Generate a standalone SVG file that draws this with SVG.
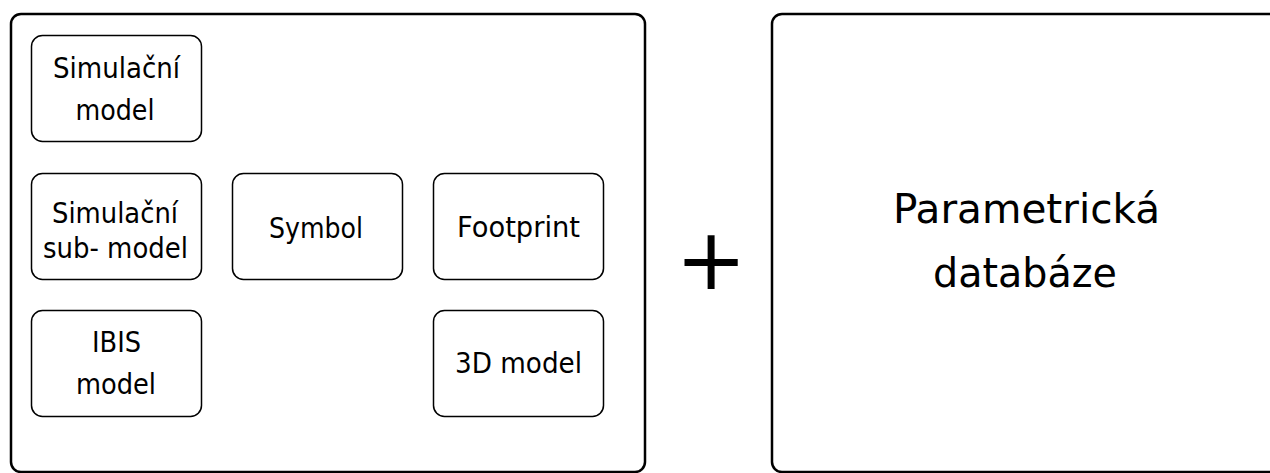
<svg xmlns="http://www.w3.org/2000/svg" width="1270" height="473" viewBox="0 0 1270 473">
  <style>
    .frame { fill: #ffffff; stroke: #000000; stroke-width: 2.5; }
    .item { fill: #ffffff; stroke: #000000; stroke-width: 1.5; }
    .lbl { font-family: "DejaVu Sans", "Liberation Sans", sans-serif; font-size: 28px; fill: #000000; text-anchor: middle; }
    .big { font-family: "DejaVu Sans", "Liberation Sans", sans-serif; font-size: 41px; fill: #000000; text-anchor: middle; }
    .op { font-family: "DejaVu Sans", "Liberation Sans", sans-serif; font-size: 85px; fill: #000000; text-anchor: middle; }
  </style>
  <rect width="1270" height="473" fill="#ffffff"/>

  <!-- component library container -->
  <g id="library">
    <rect class="frame" x="11" y="14" width="634" height="458" rx="10" ry="10"/>
  </g>

  <g id="sim-model">
    <rect class="item" x="31.5" y="35.5" width="170" height="106" rx="11" ry="11"/>
    <text class="lbl" x="116.5" y="77.5" textLength="127" lengthAdjust="spacingAndGlyphs">Simulační</text>
    <text class="lbl" x="115" y="120" textLength="79" lengthAdjust="spacingAndGlyphs">model</text>
  </g>

  <g id="sim-submodel">
    <rect class="item" x="31.5" y="173.5" width="170" height="106" rx="11" ry="11"/>
    <text class="lbl" x="115" y="223" textLength="126" lengthAdjust="spacingAndGlyphs">Simulační</text>
    <text class="lbl" x="115.5" y="258" textLength="145" lengthAdjust="spacingAndGlyphs">sub- model</text>
  </g>

  <g id="symbol">
    <rect class="item" x="232.5" y="173.5" width="170" height="106" rx="11" ry="11"/>
    <text class="lbl" x="316" y="237.5" textLength="94" lengthAdjust="spacingAndGlyphs">Symbol</text>
  </g>

  <g id="footprint">
    <rect class="item" x="433.5" y="173.5" width="170" height="106" rx="11" ry="11"/>
    <text class="lbl" x="518.5" y="236.5" textLength="123" lengthAdjust="spacingAndGlyphs">Footprint</text>
  </g>

  <g id="ibis-model">
    <rect class="item" x="31.5" y="310.5" width="170" height="106" rx="11" ry="11"/>
    <text class="lbl" x="116.5" y="352" textLength="49" lengthAdjust="spacingAndGlyphs">IBIS</text>
    <text class="lbl" x="116" y="394" textLength="80" lengthAdjust="spacingAndGlyphs">model</text>
  </g>

  <g id="model-3d">
    <rect class="item" x="433.5" y="310.5" width="170" height="106" rx="11" ry="11"/>
    <text class="lbl" x="518.5" y="373" textLength="127" lengthAdjust="spacingAndGlyphs">3D model</text>
  </g>

  <!-- plus sign between the two blocks -->
  <g id="plus">
    <text class="op" x="711" y="289">+</text>
  </g>

  <!-- parametric database block -->
  <g id="param-db">
    <rect class="frame" x="772" y="14" width="520" height="458" rx="10" ry="10"/>
    <text class="big" x="1026.5" y="223" textLength="267" lengthAdjust="spacingAndGlyphs">Parametrická</text>
    <text class="big" x="1025" y="287" textLength="184" lengthAdjust="spacingAndGlyphs">databáze</text>
  </g>

  <g id="connectors"/>
</svg>
